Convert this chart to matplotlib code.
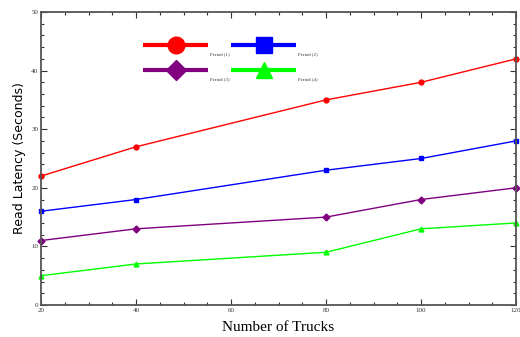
import matplotlib
matplotlib.use("Agg")
import matplotlib.pyplot as plt
from matplotlib.ticker import MultipleLocator

trucks = [20, 40, 80, 100, 120]
period1 = [22, 27, 35, 38, 42]
period2 = [16, 18, 23, 25, 28]
period3 = [11, 13, 15, 18, 20]
period4 = [5, 7, 9, 13, 14]
labels = ["Period (1)", "Period (2)", "Period (3)", "Period (4)"]
colors = ["#ff0000", "#0000ff", "#800080", "#00ff00"]
markers = ["o", "s", "D", "^"]

fig = plt.figure(figsize=(5.2, 3.37), dpi=100)
ax = fig.add_axes([41 / 520, 32 / 337, 475 / 520, 293 / 337])

series = [period1, period2, period3, period4]
for vals, c, m in zip(series, colors, markers):
    ax.plot(trucks, vals, color=c, marker=m, markersize=3.5, linewidth=1, clip_on=False)

ax.set_xlim(20, 120)
ax.set_ylim(0, 50)
ax.xaxis.set_major_locator(MultipleLocator(20))
ax.xaxis.set_minor_locator(MultipleLocator(5))
ax.yaxis.set_major_locator(MultipleLocator(10))
ax.yaxis.set_minor_locator(MultipleLocator(2))
ax.tick_params(which="both", direction="in", top=True, right=True, colors="#333333",
               labelsize=5, pad=2)
ax.tick_params(which="major", length=4, width=0.8)
ax.tick_params(which="minor", length=2, width=0.8)
for lab in ax.get_xticklabels() + ax.get_yticklabels():
    lab.set_family("Liberation Serif")
for sp in ax.spines.values():
    sp.set_color("#555555")
    sp.set_linewidth(1.3)

ax.set_xlabel("Number of Trucks", family="Liberation Serif", fontsize=11, labelpad=6)
ax.set_ylabel("Read Latency (Seconds)", family="DejaVu Sans", fontsize=9, labelpad=4)

# legend drawn by hand: big marker on thick line, small label at lower right
leg_x = [0.215, 0.40]
leg_y = [0.887, 0.802]
for i, (lab, c, m) in enumerate(zip(labels, colors, markers)):
    x0 = leg_x[i % 2]
    y0 = leg_y[i // 2]
    ax.plot([x0, x0 + 0.137], [y0, y0], transform=ax.transAxes, color=c, linewidth=3,
            solid_capstyle="butt", clip_on=False)
    ax.plot([x0 + 0.0685], [y0], transform=ax.transAxes, color=c, marker=m,
            markersize=12 if m != "D" else 10, clip_on=False)
    ax.text(x0 + 0.14, y0 - 0.032, lab, transform=ax.transAxes, fontsize=3.5,
            family="Liberation Serif", color="#333333", va="center", ha="left")

fig.savefig("out.png", dpi=100)
